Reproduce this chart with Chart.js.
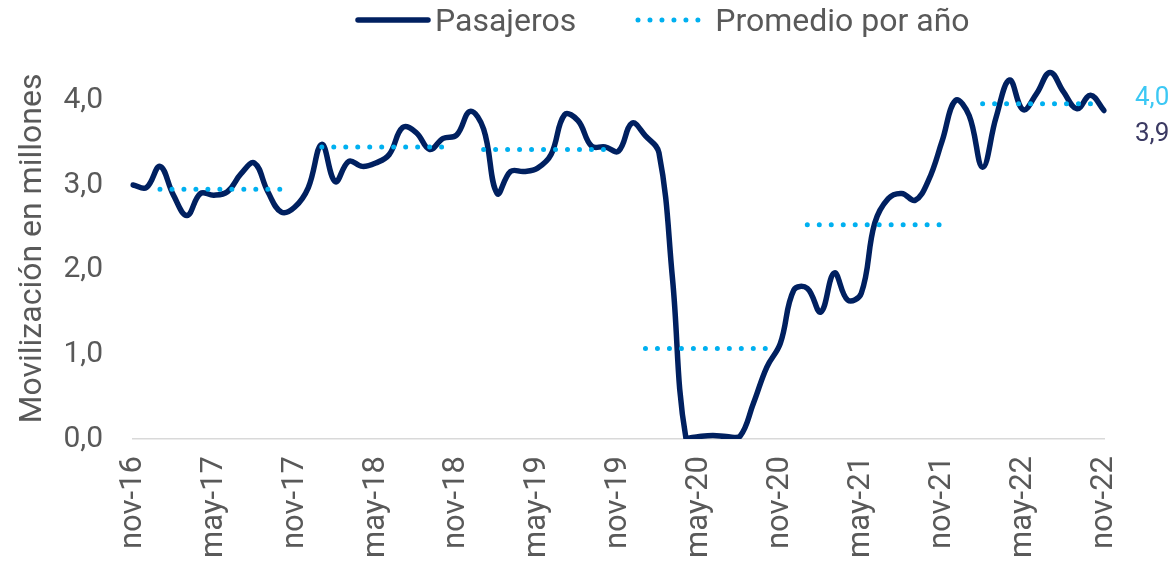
<!DOCTYPE html>
<html>
<head>
<meta charset="utf-8">
<script src="https://cdn.jsdelivr.net/npm/chart.js@4.4.1/dist/chart.umd.min.js"></script>
<style>
  html, body { margin: 0; padding: 0; background: #ffffff; }
  #wrap { position: relative; width: 1175px; height: 565px; }
  #c { position: absolute; left: 0; top: 0; }
  #leyenda { position: absolute; top: 0; left: 355px; height: 40px; display: flex; align-items: center; gap: 59px;
             font-family: Roboto, sans-serif; font-size: 32px; color: #595959; white-space: nowrap; }
  .item { display: flex; align-items: center; }
  .item span { margin-left: 4px; line-height: 40px; }
</style>
</head>
<body>
<div id="wrap">
  <canvas id="c" width="1175" height="565"></canvas>
  <div id="leyenda"></div>
</div>
<script>
// ---- Datos ----
const meses = [
  'nov-16','dic-16',
  'ene-17','feb-17','mar-17','abr-17','may-17','jun-17','jul-17','ago-17','sep-17','oct-17','nov-17','dic-17',
  'ene-18','feb-18','mar-18','abr-18','may-18','jun-18','jul-18','ago-18','sep-18','oct-18','nov-18','dic-18',
  'ene-19','feb-19','mar-19','abr-19','may-19','jun-19','jul-19','ago-19','sep-19','oct-19','nov-19','dic-19',
  'ene-20','feb-20','mar-20','abr-20','may-20','jun-20','jul-20','ago-20','sep-20','oct-20','nov-20','dic-20',
  'ene-21','feb-21','mar-21','abr-21','may-21','jun-21','jul-21','ago-21','sep-21','oct-21','nov-21','dic-21',
  'ene-22','feb-22','mar-22','abr-22','may-22','jun-22','jul-22','ago-22','sep-22','oct-22','nov-22'
];

const pasajeros = [
  3.00, 2.97,
  3.22, 2.88, 2.64, 2.90, 2.88, 2.92, 3.13, 3.26, 2.92, 2.68, 2.74, 2.97,
  3.48, 3.04, 3.28, 3.22, 3.26, 3.36, 3.68, 3.62, 3.42, 3.55, 3.59, 3.87,
  3.66, 2.90, 3.16, 3.16, 3.20, 3.36, 3.83, 3.76, 3.46, 3.45, 3.40, 3.73,
  3.58, 3.38, 1.90, 0.01, 0.03, 0.04, 0.03, 0.03, 0.42, 0.85, 1.13, 1.76,
  1.78, 1.50, 1.96, 1.64, 1.72, 2.55, 2.84, 2.90, 2.82, 3.06, 3.52, 4.00,
  3.82, 3.21, 3.80, 4.24, 3.89, 4.08, 4.33, 4.10, 3.90, 4.06, 3.88
];

const promedioValores = [2.95, 3.45, 3.42, 1.07, 2.53, 3.96];
const promedioDesde   = ['ene-17', 'ene-18', 'ene-19', 'ene-20', 'ene-21', 'feb-22'];
const promedioHasta   = ['oct-17', 'oct-18', 'oct-19', 'oct-20', 'nov-21', 'oct-22'];

const etiquetasX = ['nov-16','may-17','nov-17','may-18','nov-18','may-19','nov-19','may-20','nov-20','may-21','nov-21','may-22','nov-22'];
const ticksY = [0, 1, 2, 3, 4];

// ---- Serie de promedios construida a partir de los tramos ----
const promedio = meses.map(() => null);
promedioValores.forEach((v, k) => {
  const a = meses.indexOf(promedioDesde[k]);
  const b = meses.indexOf(promedioHasta[k]);
  for (let i = a; i <= b; i++) promedio[i] = v;
});

const fmt = v => (Math.round(v * 10) / 10).toFixed(1).replace('.', ',');

const GRIS = '#595959';
const FONT = 'Roboto, sans-serif';

const etiquetasFinales = {
  id: 'etiquetasFinales',
  afterDatasetsDraw(chart) {
    const { ctx, scales: { x, y } } = chart;
    const last = meses.length - 1;
    const ultimoProm = promedioValores[promedioValores.length - 1];
    const ultimoPas = pasajeros[last];
    const xp = x.getPixelForValue(last) + 31;
    ctx.save();
    ctx.font = '26px ' + FONT;
    ctx.textAlign = 'left';
    ctx.textBaseline = 'middle';
    ctx.fillStyle = '#3CC8F4';
    ctx.fillText(fmt(ultimoProm), xp, y.getPixelForValue(ultimoProm) - 5);
    ctx.fillStyle = '#3B3A63';
    ctx.fillText(fmt(ultimoPas), xp, y.getPixelForValue(ultimoPas) + 24);
    ctx.restore();
  }
};

const chart = new Chart(document.getElementById('c'), {
  type: 'line',
  data: {
    labels: meses,
    datasets: [
      {
        label: 'Pasajeros',
        data: pasajeros,
        borderColor: '#002060',
        borderWidth: 5.5,
        tension: 0.4,
        pointRadius: 0,
        borderCapStyle: 'round',
        borderJoinStyle: 'round',
        fill: false,
        order: 1
      },
      {
        label: 'Promedio por año',
        data: promedio,
        borderColor: '#00B0F0',
        borderWidth: 5,
        borderDash: [0, 11.98],
        borderCapStyle: 'round',
        tension: 0,
        pointRadius: 0,
        spanGaps: false,
        fill: false,
        order: 0
      }
    ]
  },
  options: {
    responsive: false,
    animation: false,
    layout: { padding: { top: 58, right: 71, left: 0, bottom: 0 } },
    plugins: {
      legend: { display: false },
      tooltip: { enabled: false }
    },
    scales: {
      x: {
        type: 'category',
        offset: false,
        grid: { display: false, drawTicks: false },
        border: { display: true, color: '#D9D9D9', width: 1.5 },
        afterBuildTicks: s => { s.ticks = s.ticks.filter(t => etiquetasX.includes(meses[t.value])); },
        afterFit: s => { s.height = 126; },
        ticks: {
          autoSkip: false,
          minRotation: 90,
          maxRotation: 90,
          padding: 17,
          color: GRIS,
          font: { family: FONT, size: 31 },
          callback: function (v) { return this.getLabelForValue(v); }
        }
      },
      y: {
        min: 0,
        max: 4.5,
        grid: { display: false, drawTicks: false },
        border: { display: false },
        afterBuildTicks: s => { s.ticks = ticksY.map(v => ({ value: v })); },
        afterFit: s => { s.width = 133; },
        ticks: {
          padding: 30,
          color: GRIS,
          font: { family: FONT, size: 30 },
          callback: v => fmt(v)
        },
        title: {
          display: true,
          text: 'Movilización en millones',
          color: GRIS,
          font: { family: FONT, size: 32 },
          padding: { top: 14, bottom: 0 }
        }
      }
    }
  },
  plugins: [etiquetasFinales]
});

// ---- Leyenda HTML generada a partir de los datasets ----
(function construirLeyenda() {
  const cont = document.getElementById('leyenda');
  chart.data.datasets.forEach(ds => {
    const item = document.createElement('div');
    item.className = 'item';
    const dash = ds.borderDash ? ds.borderDash.join(' ') : 'none';
    const svg = '<svg width="76" height="12" xmlns="http://www.w3.org/2000/svg">' +
      '<line x1="3" y1="6" x2="' + (ds.borderDash ? 70 : 73) + '" y2="6" stroke="' + ds.borderColor +
      '" stroke-width="' + ds.borderWidth + '" stroke-linecap="round"' +
      (ds.borderDash ? ' stroke-dasharray="' + dash + '"' : '') + '/></svg>';
    item.innerHTML = svg + '<span>' + ds.label + '</span>';
    cont.appendChild(item);
  });
})();
</script>
</body>
</html>
